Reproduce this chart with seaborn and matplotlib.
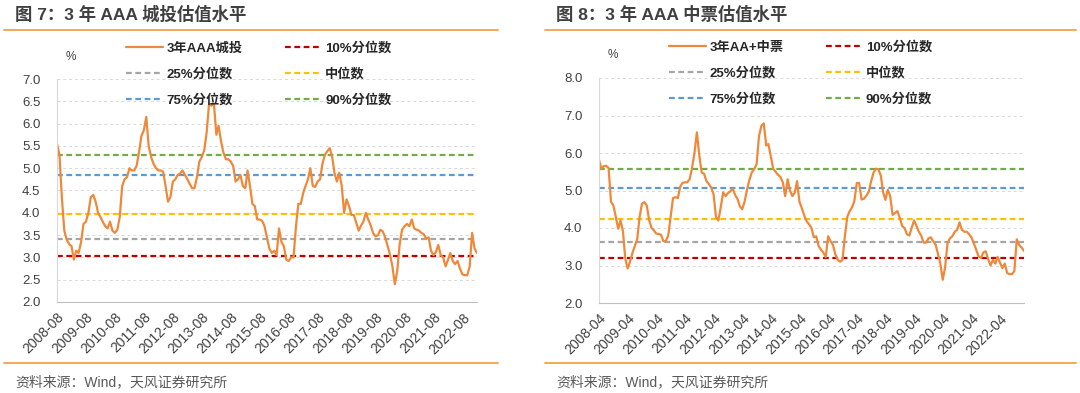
import numpy as np
import pandas as pd
import matplotlib
matplotlib.use("Agg")
import matplotlib.pyplot as plt
import matplotlib.dates as mdates
from matplotlib.lines import Line2D
import seaborn as sns

sns.set_style("white")
plt.rcParams['font.family'] = ['Liberation Sans', 'Noto Sans CJK SC', 'DejaVu Sans']
plt.rcParams['axes.unicode_minus'] = False

# ---- data (monthly readings) ----
# left: 3年AAA城投, starting 2008-08
l_start = "2008-08-01"
l_vals = [5.55, 5.3, 4.35, 3.6, 3.4, 3.3, 3.25, 2.95, 3.15, 3.1,
          3.35, 3.75, 3.8, 4.0, 4.35, 4.4, 4.25, 4.0, 3.9, 3.8,
          3.7, 3.65, 3.8, 3.6, 3.55, 3.62, 3.9, 4.6, 4.75, 4.8,
          5.0, 4.95, 4.95, 5.05, 5.35, 5.72, 5.85, 6.15, 5.5, 5.25,
          5.1, 5.0, 4.95, 4.95, 4.92, 4.6, 4.25, 4.35, 4.7, 4.75,
          4.85, 4.88, 4.95, 4.85, 4.75, 4.65, 4.55, 4.55, 4.8, 5.15,
          5.25, 5.4, 5.8, 6.45, 6.4, 6.45, 5.75, 5.95, 5.6, 5.35,
          5.2, 5.2, 5.15, 5.05, 4.7, 4.75, 4.85, 4.6, 4.55, 4.95,
          4.6, 4.2, 4.15, 3.85, 3.85, 3.82, 3.7, 3.45, 3.2, 3.1,
          3.15, 3.05, 3.65, 3.35, 3.25, 2.95, 2.92, 3.0, 3.0, 3.7,
          4.2, 4.2, 4.45, 4.6, 4.75, 5.0, 4.6, 4.58, 4.7, 4.75,
          5.1, 5.3, 5.38, 5.45, 5.25, 4.9, 4.7, 4.9, 4.6, 4.0,
          4.3, 4.15, 3.95, 3.95, 3.78, 3.6, 3.72, 3.8, 4.0, 3.85,
          3.72, 3.55, 3.47, 3.5, 3.62, 3.58, 3.45, 3.25, 3.05, 2.8,
          2.4, 2.7, 3.3, 3.62, 3.7, 3.75, 3.7, 3.85, 3.65, 3.62,
          3.6, 3.55, 3.52, 3.42, 3.45, 3.15, 3.05, 3.12, 3.28, 3.05,
          3.0, 2.8, 2.95, 3.1, 2.92, 2.85, 2.92, 2.75, 2.62, 2.6,
          2.6, 2.8, 3.55, 3.2, 3.1]
l_pct = [3.03, 3.42, 3.98, 4.85, 5.30]   # 10%, 25%, median, 75%, 90%

# right: 3年AA+中票, starting 2008-04
r_start = "2008-04-01"
r_vals = [5.82, 5.58, 5.65, 5.66, 5.6, 4.7, 4.6, 4.3, 3.98, 4.2,
          3.9, 3.2, 2.92, 3.1, 3.33, 3.52, 3.7, 4.3, 4.65, 4.69,
          4.6, 4.2, 4.0, 3.94, 3.85, 3.84, 3.82, 3.65, 3.65, 3.8,
          4.3, 4.8, 4.82, 4.8, 5.1, 5.2, 5.22, 5.22, 5.3, 5.6,
          6.0, 6.55, 5.95, 5.48, 5.45, 5.25, 5.17, 5.08, 4.9, 4.3,
          4.2, 4.55, 4.95, 4.85, 4.93, 4.98, 5.05, 4.88, 4.77, 4.58,
          4.5, 4.7, 5.02, 5.28, 5.48, 5.57, 5.7, 6.45, 6.72, 6.79,
          6.2, 6.24, 5.9, 5.58, 5.5, 5.42, 5.36, 5.22, 4.85, 5.3,
          5.0, 4.85, 4.95, 5.25, 4.7, 4.53, 4.33, 4.18, 4.1, 4.0,
          3.75, 3.78, 3.52, 3.42, 3.34, 3.22, 3.78, 3.65, 3.55, 3.3,
          3.15, 3.1, 3.15, 3.8, 4.3, 4.45, 4.56, 4.72, 5.2, 5.2,
          4.76, 4.78, 4.86, 4.97, 5.25, 5.48, 5.58, 5.57, 5.4, 4.97,
          4.75, 5.02, 4.85, 4.35, 4.4, 4.45, 4.27, 4.05, 4.0, 3.83,
          3.8, 4.0, 4.2, 4.06, 3.9, 3.8, 3.61, 3.61, 3.72, 3.75,
          3.65, 3.56, 3.3, 3.05, 2.62, 2.95, 3.6, 3.72, 3.78, 3.9,
          3.95, 4.15, 3.95, 3.9, 3.9, 3.84, 3.75, 3.6, 3.42, 3.25,
          3.2, 3.35, 3.38, 3.17, 3.0, 3.15, 3.05, 3.23, 3.08, 2.93,
          3.05, 2.8, 2.77, 2.77, 2.85, 3.7, 3.55, 3.48, 3.39]
r_pct = [3.19, 3.63, 4.24, 5.06, 5.58]

pct_names = ["10%分位数", "25%分位数", "中位数", "75%分位数", "90%分位数"]
pct_colors = ["#C00000", "#A5A5A5", "#FFC000", "#5B9BD5", "#70AD47"]
line_color = "#F0883A"
sep_color = "#F4A04A"
text_color = "#404040"


def draw_panel(ax, start, vals, pcts, name, ylim, ystep, tick_month):
    dates = pd.date_range(start, periods=len(vals), freq="MS")
    df = pd.DataFrame({"date": dates, "val": vals})
    sns.lineplot(data=df, x="date", y="val", ax=ax, color=line_color, lw=1.6, label=name)
    handles = [Line2D([], [], color=line_color, lw=1.6)]
    for p, c in zip(pcts, pct_colors):
        ax.axhline(p, color=c, lw=1.6, ls=(0, (2.6, 1.6)), zorder=1)
        handles.append(Line2D([], [], color=c, lw=1.6, ls=(0, (2.6, 1.6))))
    labels = [name] + pct_names
    order = [0, 2, 4, 1, 3, 5]
    ax.legend([handles[i] for i in order], [labels[i] for i in order], ncol=2,
              loc="upper left", bbox_to_anchor=(0.165, 1.165), frameon=False,
              borderpad=0, borderaxespad=0, handlelength=2.8, handletextpad=0.25,
              columnspacing=3.2, labelspacing=1.0,
              prop={"weight": "bold", "size": 9.5})

    ax.set_ylim(*ylim)
    ax.set_yticks(np.arange(ylim[0], ylim[1] + 0.01, ystep))
    ax.yaxis.set_major_formatter(matplotlib.ticker.FormatStrFormatter("%.1f"))
    ax.grid(axis="y", color="#D9D9D9", lw=0.7, ls=(0, (3, 3)))
    ax.set_axisbelow(True)

    end_year = dates[-1].year
    ticks = pd.date_range(f"2008-{tick_month:02d}-01", f"{end_year}-{tick_month:02d}-01", freq="12MS")
    ticks = ticks[ticks <= dates[-1]]
    ax.set_xticks(ticks)
    ax.xaxis.set_major_formatter(mdates.DateFormatter("%Y-%m"))
    ax.set_xlim(dates[0], dates[-1])
    plt.setp(ax.get_xticklabels(), rotation=45, ha="right", rotation_mode="anchor")

    ax.tick_params(axis="x", length=4, width=0.8, color="#BFBFBF", labelsize=10,
                   labelcolor=text_color, direction="out", pad=2)
    ax.tick_params(axis="y", length=0, labelsize=9.5, labelcolor=text_color, pad=12)
    for s in ["top", "right"]:
        ax.spines[s].set_visible(False)
    ax.spines["left"].set_color("#D9D9D9")
    ax.spines["bottom"].set_color("#BFBFBF")
    ax.set_xlabel("")
    ax.set_ylabel("")
    ax.text(0.02, 1.1, "%", transform=ax.transAxes, fontsize=8.5, color=text_color,
            ha="left", va="center")


fig = plt.figure(figsize=(10.8, 3.93), dpi=100)
W, H = 1080, 393
ax1 = fig.add_axes([57 / W, 1 - 302 / H, 420 / W, 223 / H])
ax2 = fig.add_axes([599 / W, 1 - 303 / H, 425 / W, 225 / H])

draw_panel(ax1, l_start, l_vals, l_pct, "3年AAA城投", (2.0, 7.0), 0.5, 8)
draw_panel(ax2, r_start, r_vals, r_pct, "3年AA+中票", (2.0, 8.0), 1.0, 4)

# titles, separators, source notes
for x0, x1, title in [(4, 498, "图 7：3 年 AAA 城投估值水平"),
                      (545, 1076, "图 8：3 年 AAA 中票估值水平")]:
    fig.text((x0 + 11) / W, 1 - 14 / H, title, fontsize=12.5, fontweight="bold",
             color=text_color, ha="left", va="center")
    fig.add_artist(Line2D([x0 / W, x1 / W], [1 - 30 / H, 1 - 30 / H], color=sep_color, lw=1.3))
    fig.add_artist(Line2D([x0 / W, x1 / W], [1 - 363 / H, 1 - 363 / H], color=sep_color, lw=1.3))
    fig.text((x0 + 11) / W, 1 - 382 / H, "资料来源：Wind，天风证券研究所", fontsize=10,
             color="#595959", ha="left", va="center")

fig.savefig("out.png", dpi=100)
